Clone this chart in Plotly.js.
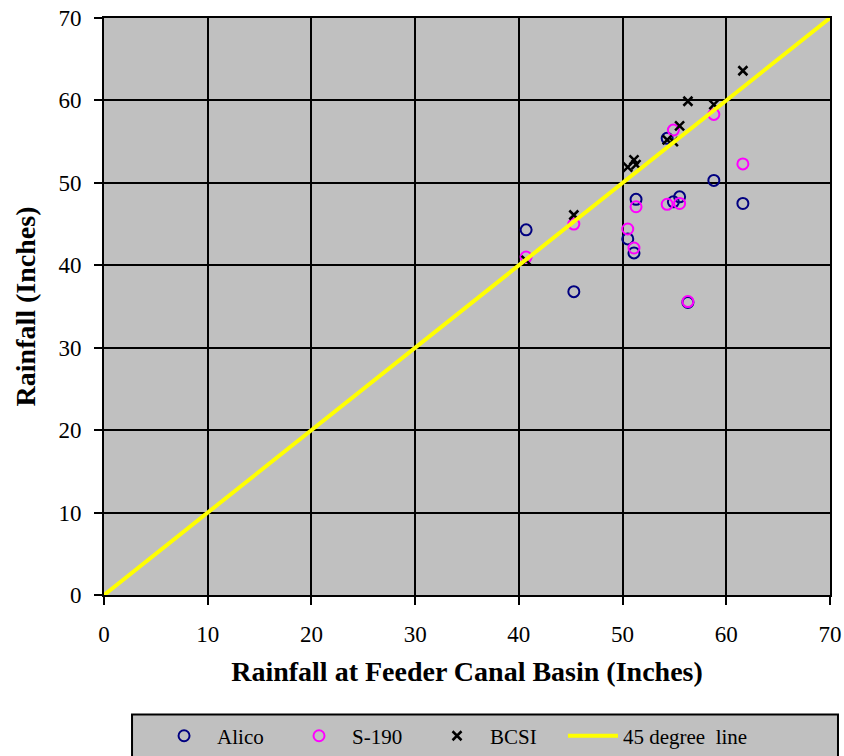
<!DOCTYPE html>
<html>
<head>
<meta charset="utf-8">
<script src="https://cdn.plot.ly/plotly-3.0.1.min.js"></script>
<style>html,body{margin:0;padding:0;background:#fff;}#chart{width:844px;height:756px;}</style>
</head>
<body>
<div id="chart"></div>
<script>
const basin = [40.7, 45.3, 50.5, 51.1, 51.3, 54.3, 54.9, 55.5, 56.3, 58.8, 61.6];
const alico = [44.3, 36.8, 43.2, 41.5, 48.0, 55.4, 47.7, 48.3, 35.5, 50.3, 47.5];
const s190  = [41.0, 45.0, 44.4, 42.1, 47.1, 47.4, 56.4, 47.5, 35.6, 58.3, 52.3];
const bcsi  = [40.6, 46.1, 51.9, 52.8, 52.2, 55.2, 55.0, 56.9, 59.9, 59.5, 63.6];
const lineX = [0, 70];
const lineY = [0, 70];
const tickVals = [0, 10, 20, 30, 40, 50, 60, 70];

const font = 'Liberation Serif, Times New Roman, serif';
const traces = [
  {x: basin, y: alico, name: 'Alico', type: 'scatter', mode: 'markers', legend: 'legend',
   marker: {symbol: 'circle-open', size: 11, color: '#000080', line: {width: 2, color: '#000080'}}},
  {x: basin, y: s190, name: 'S-190', type: 'scatter', mode: 'markers', legend: 'legend2',
   marker: {symbol: 'circle-open', size: 11, color: '#ff00ff', line: {width: 2, color: '#ff00ff'}}},
  {x: basin, y: bcsi, name: 'BCSI', type: 'scatter', mode: 'markers', legend: 'legend3',
   marker: {symbol: 'x-thin-open', size: 9, color: '#000000', line: {width: 2.5, color: '#000000'}}},
  {x: lineX, y: lineY, name: '45 degree  line', type: 'scatter', mode: 'lines', legend: 'legend4',
   line: {color: '#ffff00', width: 4}}
];
function leg(x, iw) {
  return {orientation: 'h', x: x, xanchor: 'left', y: -0.209, yanchor: 'top',
    bgcolor: 'rgba(0,0,0,0)', borderwidth: 0, itemwidth: iw,
    font: {family: font, size: 21}};
}
const layout = {
  width: 844, height: 756,
  margin: {l: 104, r: 14, t: 18, b: 161, autoexpand: false},
  paper_bgcolor: '#ffffff',
  plot_bgcolor: '#c0c0c0',
  font: {family: font, size: 23, color: '#000'},
  showlegend: true,
  xaxis: {range: [0, 70], tickvals: tickVals, showgrid: true, gridcolor: '#000', gridwidth: 2,
    zeroline: false, showline: true, linecolor: '#000', linewidth: 2, mirror: true,
    ticks: 'outside', ticklen: 8, tickwidth: 2, tickcolor: '#000', ticklabelstandoff: 9,
    title: {text: '<b>Rainfall at Feeder Canal Basin (Inches)</b>', font: {family: font, size: 28}, standoff: 16}},
  yaxis: {range: [0, 70], tickvals: tickVals, showgrid: true, gridcolor: '#000', gridwidth: 2,
    zeroline: false, showline: true, linecolor: '#000', linewidth: 2, mirror: true,
    ticks: 'outside', ticklen: 8, tickwidth: 2, tickcolor: '#000', ticklabelstandoff: 8,
    title: {text: '<b>Rainfall (Inches)</b>', font: {family: font, size: 28}, standoff: 15}},
  shapes: [{type: 'rect', xref: 'paper', yref: 'paper', x0: 0.0386, x1: 1.011, y0: -0.3, y1: -0.207,
    fillcolor: '#c0c0c0', line: {color: '#000', width: 2}, layer: 'below'}],
  legend: leg(0.0648, 56),
  legend2: leg(0.2507, 56),
  legend3: leg(0.4408, 56),
  legend4: leg(0.6322, 50)
};
Plotly.newPlot('chart', traces, layout, {displayModeBar: false});
</script>
</body>
</html>
